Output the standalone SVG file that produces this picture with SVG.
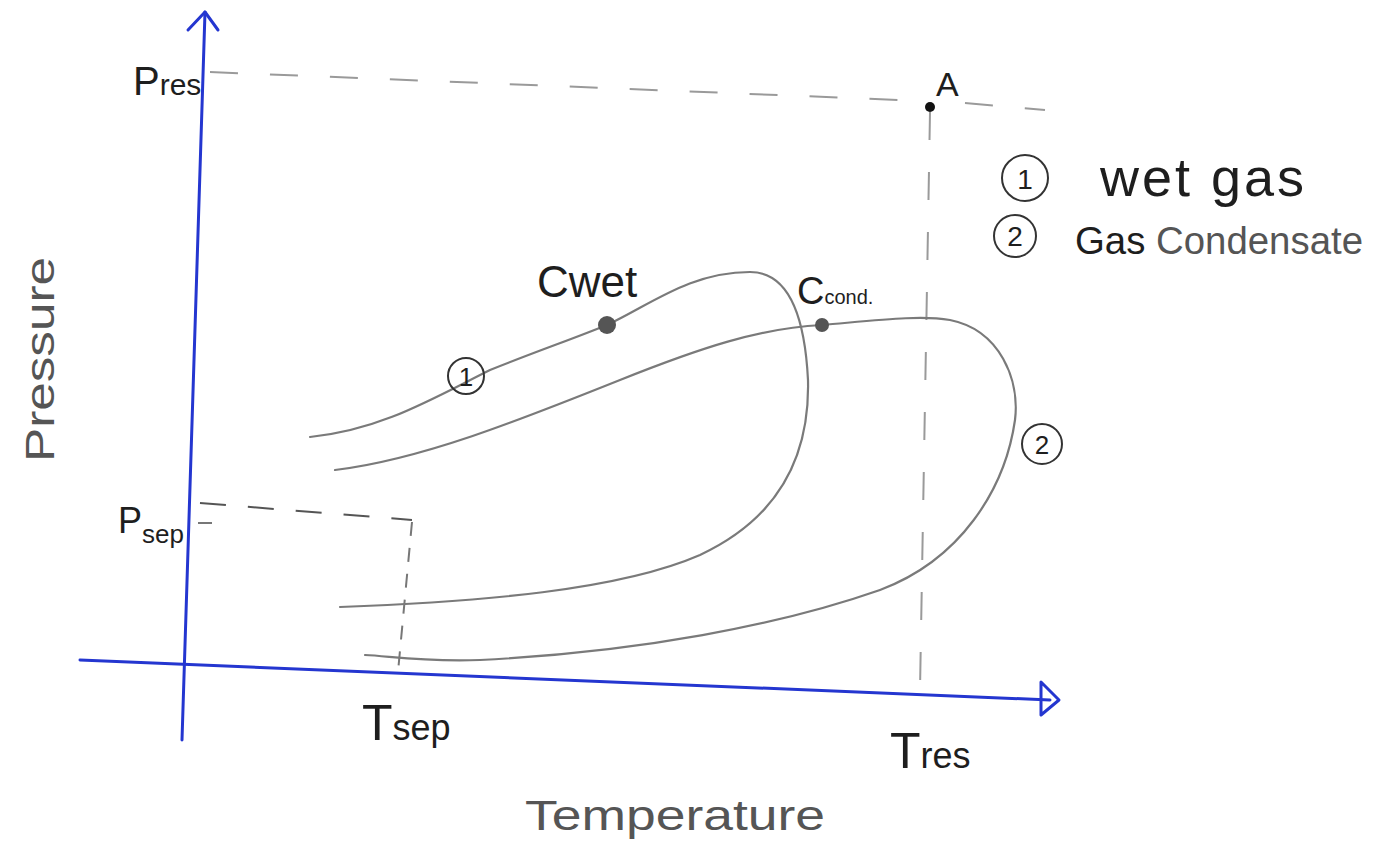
<svg xmlns="http://www.w3.org/2000/svg" width="1375" height="854" viewBox="0 0 1375 854">
<style>
.axis{stroke:#2436d0;stroke-width:3;fill:none;stroke-linecap:round;stroke-linejoin:round}
.curve{stroke:#7a7a7a;stroke-width:2.2;fill:none;stroke-linecap:round}
.guide{stroke:#9a9a9a;stroke-width:2;fill:none;stroke-dasharray:28 32}
.guide2{stroke:#555;stroke-width:2;fill:none;stroke-dasharray:26 22}
.guide3{stroke:#777;stroke-width:2;fill:none;stroke-dasharray:14 12}
.lbl{font-family:"Liberation Sans","DejaVu Sans",sans-serif;fill:#1e1e1e}
.grey{fill:#555}
.ring{fill:none;stroke:#333;stroke-width:2}
</style>
<rect width="1375" height="854" fill="#ffffff"/>
<g id="axes">
<path class="axis" d="M182,740 L205,12"/>
<path class="axis" d="M188,30 L205,12 L218,30"/>
<path class="axis" d="M80,660 L1050,700"/>
<path class="axis" d="M1041,682 L1059,700 L1041,715 Z"/>
</g>
<g id="connectors">
<path class="guide" d="M210,72 L900,100"/>
<path class="guide" d="M965,103 L1045,110"/>
<path class="guide" d="M930,112 L920,690"/>
<path class="guide2" d="M200,503 L412,520"/>
<path class="guide3" d="M412,522 L398,672"/>
<path d="M198,523 L212,523" stroke="#777" stroke-width="2"/>
</g>
<g id="curve-wet-gas">
<path class="curve" d="M310,437 C380,430 430,400 490,370 C540,350 570,340 607,325 C650,305 690,272 750,272 C790,272 805,320 808,380 C810,460 775,520 700,555 C620,590 480,602 340,607"/>
<circle cx="607" cy="325" r="9" fill="#555"/>
<text class="lbl" x="537" y="297" font-size="44">Cwet</text>
<circle class="ring" cx="466" cy="376" r="18"/>
<text class="lbl" x="466" y="386" font-size="26" text-anchor="middle">1</text>
</g>
<g id="curve-gas-condensate">
<path class="curve" d="M335,470 C420,460 520,420 620,380 C700,348 760,328 822,325 C880,320 920,315 950,320 C1000,330 1020,380 1015,420 C1005,490 960,560 880,590 C780,625 640,652 480,660 C420,662 390,656 365,655"/>
<circle cx="822" cy="325" r="7" fill="#555"/>
<text class="lbl" x="797" y="304" font-size="38">C<tspan font-size="20">cond.</tspan></text>
<circle class="ring" cx="1042" cy="444" r="20"/>
<text class="lbl" x="1042" y="454" font-size="26" text-anchor="middle">2</text>
</g>
<g id="point-A">
<circle cx="930" cy="107" r="5" fill="#111"/>
<text class="lbl" x="936" y="96" font-size="34">A</text>
</g>
<g id="legend">
<circle class="ring" cx="1025" cy="178" r="23"/>
<text class="lbl" x="1025" y="189" font-size="28" text-anchor="middle" fill="#555">1</text>
<text class="lbl" x="1100" y="196" font-size="54" letter-spacing="3">wet gas</text>
<circle class="ring" cx="1015" cy="236" r="21" stroke-width="3"/>
<text class="lbl" x="1015" y="246" font-size="28" text-anchor="middle">2</text>
<text class="lbl" x="1075" y="254" font-size="38" textLength="288" lengthAdjust="spacingAndGlyphs">Gas <tspan class="grey">Condensate</tspan></text>
</g>
<g id="axis-labels">
<text class="lbl" x="133" y="95" font-size="40">P<tspan font-size="30">res</tspan></text>
<text class="lbl" x="118" y="533" font-size="36">P<tspan font-size="26" dy="10">sep</tspan></text>
<text class="lbl" x="362" y="740" font-size="50">T<tspan font-size="36">sep</tspan></text>
<text class="lbl" x="890" y="768" font-size="50">T<tspan font-size="36">res</tspan></text>
<text class="lbl grey" x="525" y="830" font-size="42" textLength="300" lengthAdjust="spacingAndGlyphs">Temperature</text>
<text class="lbl grey" x="0" y="0" font-size="40" textLength="205" lengthAdjust="spacingAndGlyphs" transform="translate(54,462) rotate(-90)">Pressure</text>
</g>
</svg>
